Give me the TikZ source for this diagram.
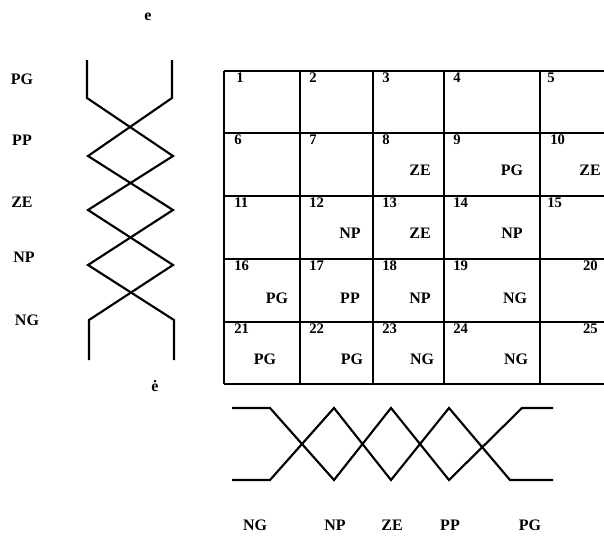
\documentclass[tikz,border=0pt]{standalone}
\usepackage{fontspec}
\setmainfont{Liberation Serif}
\begin{document}
\begin{tikzpicture}[x=0.75pt,y=-0.75pt,
  curve/.style={line width=1.6pt,line join=miter},
  gridline/.style={line width=1.5pt},
  lab/.style={font=\fontsize{12}{14}\selectfont\bfseries,inner sep=0pt},
  num/.style={font=\fontsize{11}{13}\selectfont\bfseries,inner sep=0pt,anchor=north west},
  numr/.style={font=\fontsize{11}{13}\selectfont\bfseries,inner sep=0pt,anchor=north east}]
\useasboundingbox (0,0) rectangle (604,539);
% left vertical diagram
\draw[curve] (87,60) -- (87,98) -- (173,156) -- (88,210) -- (173,265) -- (89,320) -- (89,360);
\draw[curve] (172,60) -- (172,98) -- (88,156) -- (173,210) -- (88,265) -- (174,320) -- (174,360);
\node[lab] (e) at (148,17) {e};
\node[lab] (edot) at (155,386) {\.e};
\node[lab] (lPG) at (22,79) {PG};
\node[lab] (lPP) at (22,140) {PP};
\node[lab] (lZE) at (22,202) {ZE};
\node[lab] (lNP) at (24,257) {NP};
\node[lab] (lNG) at (27,320) {NG};
% grid
\foreach \y in {71,133,196,259,322,384} \draw[gridline] (224,\y) -- (604,\y);
\foreach \x in {224,300,373,444,540} \draw[gridline] (\x,71) -- (\x,384);
% numbers
\foreach \n/\x/\y in {1/236/71,2/309/71,3/382/71,4/453/71,5/547/71,
  6/234/133,7/309/133,8/382/133,9/453/133,10/550/133,
  11/234/196,12/309/196,13/382/196,14/453/196,15/547/196,
  16/234/259,17/309/259,18/382/259,19/453/259,
  21/234/322,22/309/322,23/382/322,24/453/322}
  \node[num] (n\n) at (\x,\y+1.5) {\n};
\node[numr] (n20) at (598,260.5) {20};
\node[numr] (n25) at (598,323.5) {25};
% cell labels
\node[lab] (c8) at (420,170) {ZE};
\node[lab] (c9) at (512,170) {PG};
\node[lab] (c10) at (590,170) {ZE};
\node[lab] (c12) at (350,233) {NP};
\node[lab] (c13) at (420,233) {ZE};
\node[lab] (c14) at (512,233) {NP};
\node[lab] (c16) at (277,298) {PG};
\node[lab] (c17) at (350,298) {PP};
\node[lab] (c18) at (420,298) {NP};
\node[lab] (c19) at (515,298) {NG};
\node[lab] (c21) at (265,359) {PG};
\node[lab] (c22) at (352,359) {PG};
\node[lab] (c23) at (422,359) {NG};
\node[lab] (c24) at (516,359) {NG};
% bottom horizontal diagram
\draw[curve] (232,408) -- (270,408) -- (334,480) -- (391,408) -- (449,480) -- (522,408) -- (553,408);
\draw[curve] (232,480) -- (270,480) -- (334,408) -- (391,480) -- (449,408) -- (510,480) -- (553,480);
\node[lab] (bNG) at (255,525) {NG};
\node[lab] (bNP) at (335,525) {NP};
\node[lab] (bZE) at (392,525) {ZE};
\node[lab] (bPP) at (450,525) {PP};
\node[lab] (bPG) at (530,525) {PG};
\end{tikzpicture}
\end{document}
